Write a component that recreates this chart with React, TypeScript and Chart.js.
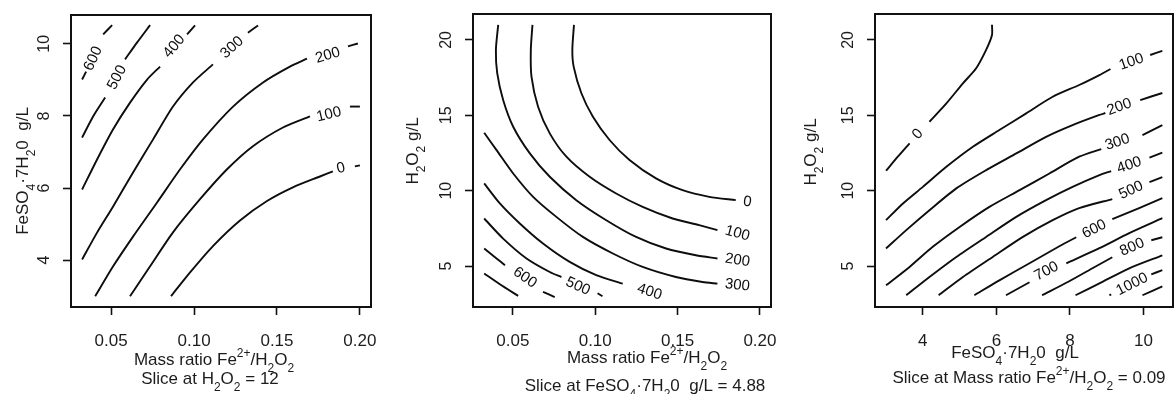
import React, { useEffect, useRef } from 'react';
import { Chart, registerables } from 'chart.js';
Chart.register(...registerables);

type P = [number, number] | null;
type Seg = [string, number]; // 0 normal, 1 superscript, 2 subscript

const FONT = '"Liberation Sans", Arial, Helvetica, sans-serif';

// ---------------- Panel 1: Mass ratio vs FeSO4·7H2O (slice H2O2 = 12) ----------------
const P1_X_TICKS = [0.05, 0.1, 0.15, 0.2];
const P1_Y_TICKS = [4, 6, 8, 10];
const P1_LEVELS = ['0', '100', '200', '300', '400', '500', '600'];
const P1_LINES: P[][] = [
  [[0.0861, 3.0], [0.0976, 3.66], [0.1114, 4.39], [0.1277, 5.1], [0.144, 5.64], [0.1596, 6.02], [0.1759, 6.32], [0.1837, 6.46], null, [0.197, 6.6], [0.2, 6.63]],
  [[0.0614, 3.0], [0.0735, 3.83], [0.0873, 4.77], [0.1036, 5.69], [0.1199, 6.52], [0.1355, 7.16], [0.1536, 7.68], [0.1699, 7.99], null, [0.194, 8.26], [0.2, 8.26]],
  [[0.0404, 3.0], [0.0512, 3.83], [0.0633, 4.66], [0.0777, 5.6], [0.0916, 6.52], [0.1054, 7.35], [0.1235, 8.26], [0.1416, 8.93], [0.1578, 9.37], [0.1681, 9.59], null, [0.1928, 9.93], [0.1988, 10.01]],
  [[0.0325, 4.02], [0.0416, 4.77], [0.0512, 5.49], [0.0633, 6.44], [0.0753, 7.35], [0.0873, 8.26], [0.0994, 8.93], [0.1114, 9.43], null, [0.1325, 10.31], [0.1386, 10.51]],
  [[0.0325, 5.96], [0.0416, 6.8], [0.0512, 7.63], [0.0614, 8.37], [0.0717, 9.01], [0.0795, 9.37], null, [0.0958, 10.26], [0.1006, 10.51]],
  [[0.0325, 7.4], [0.0392, 7.99], [0.0464, 8.51], null, [0.0584, 9.57], [0.0657, 10.04], [0.0735, 10.52]],
  [[0.0325, 9.01], [0.0349, 9.23], null, [0.0452, 10.26], [0.0506, 10.52]],
];
const P1_LABEL_AT: P[] = [
  [0.1886, 6.55], [0.1813, 8.04], [0.1807, 9.68], [0.1229, 9.9], [0.088, 9.93], [0.0536, 9.07], [0.0392, 9.59],
];

// ---------------- Panel 2: Mass ratio vs H2O2 (slice FeSO4·7H2O = 4.88) ----------------
const P2_X_TICKS = [0.05, 0.1, 0.15, 0.2];
const P2_Y_TICKS = [5, 10, 15, 20];
const P2_LEVELS = ['0', '100', '200', '300', '400', '500', '600', ''];
const P2_LINES: P[][] = [
  [[0.0871, 21.0], [0.0861, 19.34], [0.0869, 18.23], [0.0916, 16.46], [0.0986, 14.9], [0.1087, 13.36], [0.1208, 12.03], [0.1369, 10.81], [0.153, 10.03], [0.1692, 9.59], [0.1853, 9.37]],
  [[0.0619, 21.0], [0.0609, 19.34], [0.0613, 17.56], [0.0653, 15.57], [0.0724, 13.8], [0.0825, 12.25], [0.0966, 10.92], [0.1127, 9.81], [0.1288, 8.92], [0.147, 8.15], [0.1631, 7.71], [0.1742, 7.38]],
  [[0.0411, 21.0], [0.0397, 19.34], [0.0405, 17.79], [0.0441, 16.01], [0.0502, 14.24], [0.0603, 12.47], [0.0724, 10.92], [0.0885, 9.37], [0.1067, 8.04], [0.1248, 6.93], [0.143, 6.16], [0.1611, 5.71], [0.1742, 5.5]],
  [[0.0326, 13.84], [0.0401, 12.69], [0.0502, 11.14], [0.0623, 9.59], [0.0764, 8.26], [0.0925, 6.93], [0.1107, 5.83], [0.1288, 4.94], [0.149, 4.27], [0.1651, 3.94], [0.1742, 3.83]],
  [[0.0326, 10.48], [0.0421, 9.15], [0.0542, 7.82], [0.0683, 6.49], [0.0845, 5.27], [0.1006, 4.39], [0.1167, 3.83]],
  [[0.0326, 8.15], [0.0441, 6.82], [0.0583, 5.5], [0.0724, 4.6], [0.0795, 4.27], null, [0.1014, 3.19], [0.1044, 2.99]],
  [[0.0326, 6.16], [0.0401, 5.5], [0.0452, 5.05], null, [0.0683, 3.28], [0.0754, 2.94]],
  [[0.0326, 4.5], [0.0421, 3.79], [0.0532, 3.02]],
];
const P2_LABEL_AT: P[] = [
  [0.1923, 9.26], [0.1863, 7.16], [0.1863, 5.38], [0.1863, 3.72], [0.1329, 3.28], [0.0895, 3.65], [0.0573, 4.23], null,
];

// ---------------- Panel 3: FeSO4·7H2O vs H2O2 (slice mass ratio = 0.09) ----------------
const P3_X_TICKS = [4, 6, 8, 10];
const P3_Y_TICKS = [5, 10, 15, 20];
const P3_LEVELS = ['0', '100', '200', '300', '400', '500', '600', '700', '800', '', '1000', ''];
const P3_LINES: P[][] = [
  [[3.0, 11.32], [3.32, 12.25], [3.64, 13.14], null, [4.18, 14.57], [4.64, 15.79], [5.09, 17.12], [5.45, 18.12], [5.72, 19.34], [5.88, 20.33], [5.88, 21.0]],
  [[3.0, 8.04], [3.46, 9.15], [4.0, 10.25], [4.64, 11.58], [5.36, 12.91], [6.08, 14.02], [6.81, 15.13], [7.53, 16.23], [8.25, 17.01], [8.8, 17.67], [9.1, 18.07], null, [10.18, 19.0], [10.51, 19.27]],
  [[3.0, 6.16], [3.55, 7.38], [4.18, 8.7], [4.91, 10.15], [5.72, 11.36], [6.54, 12.47], [7.35, 13.57], [8.07, 14.35], [8.8, 15.02], [8.96, 15.15], null, [9.91, 16.01], [10.51, 16.48]],
  [[3.0, 3.72], [3.64, 4.94], [4.27, 6.27], [5.0, 7.59], [5.81, 8.92], [6.63, 10.03], [7.44, 11.14], [8.25, 12.25], [8.85, 12.76], null, [9.97, 13.69], [10.51, 14.35]],
  [[3.55, 3.06], [4.18, 4.27], [4.91, 5.6], [5.72, 6.93], [6.54, 8.26], [7.35, 9.37], [8.07, 10.25], [8.8, 11.03], [9.12, 11.3], null, [10.16, 12.19], [10.51, 12.52]],
  [[4.43, 3.06], [5.09, 4.27], [5.9, 5.6], [6.72, 6.93], [7.53, 8.04], [8.25, 8.84], [9.15, 9.44], null, [10.16, 10.56], [10.51, 10.9]],
  [[5.4, 3.06], [6.08, 4.05], [6.9, 5.18], [7.71, 6.31], [8.17, 6.91], null, [9.15, 8.11], [9.88, 8.84], [10.51, 9.5]],
  [[6.26, 3.06], [6.9, 3.92], null, [7.9, 5.18], [8.8, 6.18], [9.61, 7.18], [10.51, 8.17]],
  [[7.24, 3.06], [7.98, 3.99], [8.66, 4.92], [9.15, 5.58], null, [10.21, 6.71], [10.51, 6.91]],
  [[8.15, 3.06], [8.8, 3.85], [9.61, 4.85], [10.51, 5.71]],
  [[9.07, 3.06], [9.12, 3.12], null, [10.21, 4.45], [10.51, 4.72]],
  [[9.97, 3.06], [10.51, 3.65]],
];
const P3_LABEL_AT: P[] = [
  [3.86, 13.75], [9.67, 18.54], [9.34, 15.55], [9.29, 13.22], [9.61, 11.69], [9.66, 10.03], [8.66, 7.44], [7.36, 4.65], [9.69, 6.25], null, [9.69, 3.79], null,
];

// ---------------- titles (rich text) ----------------
const T_MASS: Seg[] = [['Mass ratio Fe', 0], ['2+', 1], ['/H', 0], ['2', 2], ['O', 0], ['2', 2]];
const T_FESO: Seg[] = [['FeSO', 0], ['4', 2], ['·7H', 0], ['2', 2], ['0  g/L', 0]];
const T_H2O2: Seg[] = [['H', 0], ['2', 2], ['O', 0], ['2', 2], [' g/L', 0]];
const T_SLICE1: Seg[] = [['Slice at H', 0], ['2', 2], ['O', 0], ['2', 2], [' = 12', 0]];
const T_SLICE2: Seg[] = [['Slice at FeSO', 0], ['4', 2], ['·7H', 0], ['2', 2], ['0  g/L = 4.88', 0]];
const T_SLICE3: Seg[] = [['Slice at Mass ratio Fe', 0], ['2+', 1], ['/H', 0], ['2', 2], ['O', 0], ['2', 2], [' = 0.09', 0]];

interface Spec {
  left: number; width: number; top: number; yAxisW: number; padRight: number;
  xMin: number; xMax: number; yMin: number; yMax: number;
  xTicks: number[]; yTicks: number[]; xDigits: number;
  lines: P[][]; levels: string[]; labelAt: P[];
  xTitle: { segs: Seg[]; cx: number; y: number }[];
  yTitle: { segs: Seg[]; x: number; cy: number };
}

const PANELS: Spec[] = [
  {
    left: 0, width: 400, top: 15, yAxisW: 71, padRight: 29,
    xMin: 0.0258, xMax: 0.2067, yMin: 2.7, yMax: 10.8,
    xTicks: P1_X_TICKS, yTicks: P1_Y_TICKS, xDigits: 2,
    lines: P1_LINES, levels: P1_LEVELS, labelAt: P1_LABEL_AT,
    xTitle: [{ segs: T_MASS, cx: 214, y: 365 }, { segs: T_SLICE1, cx: 210, y: 384 }],
    yTitle: { segs: T_FESO, x: 28, cy: 171 },
  },
  {
    left: 400, width: 400, top: 14, yAxisW: 73, padRight: 29,
    xMin: 0.0258, xMax: 0.2067, yMin: 2.28, yMax: 21.72,
    xTicks: P2_X_TICKS, yTicks: P2_Y_TICKS, xDigits: 2,
    lines: P2_LINES, levels: P2_LEVELS, labelAt: P2_LABEL_AT,
    xTitle: [{ segs: T_MASS, cx: 247, y: 363 }, { segs: T_SLICE2, cx: 245, y: 391 }],
    yTitle: { segs: T_H2O2, x: 18, cy: 151 },
  },
  {
    left: 800, width: 374, top: 14, yAxisW: 75, padRight: 1,
    xMin: 2.7, xMax: 10.8, yMin: 2.28, yMax: 21.72,
    xTicks: P3_X_TICKS, yTicks: P3_Y_TICKS, xDigits: 0,
    lines: P3_LINES, levels: P3_LEVELS, labelAt: P3_LABEL_AT,
    xTitle: [{ segs: T_FESO, cx: 215, y: 358 }, { segs: T_SLICE3, cx: 229, y: 383 }],
    yTitle: { segs: T_H2O2, x: 16, cy: 152 },
  },
];

function drawRich(ctx: CanvasRenderingContext2D, segs: Seg[], x: number, y: number, rot: boolean) {
  const big = `17px ${FONT}`;
  const small = `12px ${FONT}`;
  let total = 0;
  const ws = segs.map(([t, k]) => {
    ctx.font = k ? small : big;
    const w = ctx.measureText(t).width;
    total += w;
    return w;
  });
  ctx.save();
  ctx.translate(x, y);
  if (rot) ctx.rotate(-Math.PI / 2);
  ctx.textBaseline = 'alphabetic';
  ctx.textAlign = 'left';
  ctx.fillStyle = '#1c1c1c';
  let cx = -total / 2;
  segs.forEach(([t, k], i) => {
    ctx.font = k ? small : big;
    ctx.fillText(t, cx, k === 1 ? -8 : k === 2 ? 7 : 0);
    cx += ws[i];
  });
  ctx.restore();
}

function toDatasets(lines: P[][]) {
  const out: any[] = [];
  lines.forEach((line) => {
    let cur: { x: number; y: number }[] = [];
    line.forEach((p) => {
      if (p === null) {
        if (cur.length) out.push(cur);
        cur = [];
      } else cur.push({ x: p[0], y: p[1] });
    });
    if (cur.length) out.push(cur);
  });
  return out.map((d) => ({
    data: d, showLine: true, borderColor: '#0d0d0d', borderWidth: 1.9,
    pointRadius: 0, pointHoverRadius: 0, tension: 0.25, fill: false,
  }));
}

function makePlugin(spec: Spec) {
  return {
    id: 'rstyle',
    afterDatasetsDraw(chart: any) {
      const xs = chart.scales.x;
      const ys = chart.scales.y;
      const ctx: CanvasRenderingContext2D = chart.ctx;
      ctx.save();
      ctx.font = `15px ${FONT}`;
      ctx.fillStyle = '#0d0d0d';
      ctx.textAlign = 'center';
      ctx.textBaseline = 'middle';
      spec.levels.forEach((txt, i) => {
        const at = spec.labelAt[i];
        if (!txt || !at) return;
        const line = spec.lines[i];
        const g = line.indexOf(null);
        let a: any, b: any;
        if (g > 0) { a = line[g - 1]; b = line[g + 1]; }
        else { a = line[line.length - 2]; b = line[line.length - 1]; }
        let ang = Math.atan2(
          ys.getPixelForValue(b[1]) - ys.getPixelForValue(a[1]),
          xs.getPixelForValue(b[0]) - xs.getPixelForValue(a[0])
        );
        if (ang > Math.PI / 2) ang -= Math.PI;
        if (ang < -Math.PI / 2) ang += Math.PI;
        ctx.save();
        ctx.translate(xs.getPixelForValue(at[0]), ys.getPixelForValue(at[1]));
        ctx.rotate(ang);
        ctx.fillText(txt, 0, 0);
        ctx.restore();
      });
      ctx.restore();
    },
    afterDraw(chart: any) {
      const ctx: CanvasRenderingContext2D = chart.ctx;
      const { left, top, right, bottom } = chart.chartArea;
      ctx.save();
      ctx.strokeStyle = '#111';
      ctx.lineWidth = 2;
      ctx.strokeRect(left, top, right - left, bottom - top);
      ctx.restore();
      spec.xTitle.forEach((t) => drawRich(ctx, t.segs, t.cx, t.y, false));
      drawRich(ctx, spec.yTitle.segs, spec.yTitle.x, spec.yTitle.cy, true);
    },
  };
}

function Panel({ spec }: { spec: Spec }) {
  const ref = useRef<HTMLCanvasElement>(null);
  useEffect(() => {
    const gridOpts = {
      display: true, drawOnChartArea: false, drawTicks: true, tickLength: 8,
      tickColor: '#111', tickWidth: 1.6,
    };
    const chart = new Chart(ref.current!, {
      type: 'scatter',
      data: { datasets: toDatasets(spec.lines) },
      options: {
        responsive: false,
        animation: false,
        devicePixelRatio: 1,
        events: [],
        layout: { padding: { left: 0, top: spec.top, right: spec.padRight, bottom: 0 } },
        plugins: { legend: { display: false }, tooltip: { enabled: false } },
        scales: {
          x: {
            type: 'linear', min: spec.xMin, max: spec.xMax,
            afterBuildTicks: (s: any) => { s.ticks = spec.xTicks.map((v) => ({ value: v })); },
            afterFit: (s: any) => { s.height = 394 - 307; s.paddingLeft = 0; s.paddingRight = 0; s.paddingTop = 0; s.paddingBottom = 0; },
            grid: gridOpts,
            border: { display: false },
            ticks: {
              padding: 16, color: '#1c1c1c', autoSkip: false, maxRotation: 0, minRotation: 0,
              font: { family: FONT, size: 17 },
              callback: (v: any) => Number(v).toFixed(spec.xDigits),
            },
          },
          y: {
            type: 'linear', min: spec.yMin, max: spec.yMax,
            afterBuildTicks: (s: any) => { s.ticks = spec.yTicks.map((v) => ({ value: v })); },
            afterFit: (s: any) => { s.width = spec.yAxisW; s.paddingLeft = 0; s.paddingRight = 0; s.paddingTop = 0; s.paddingBottom = 0; },
            grid: gridOpts,
            border: { display: false },
            ticks: {
              padding: 10, color: '#1c1c1c', autoSkip: false, minRotation: 90, maxRotation: 90,
              crossAlign: 'center',
              font: { family: FONT, size: 16 },
              callback: (v: any) => String(v),
            },
          },
        },
      } as any,
      plugins: [makePlugin(spec) as any],
    });
    return () => chart.destroy();
  }, [spec]);
  return (
    <canvas
      ref={ref}
      width={spec.width}
      height={394}
      style={{ position: 'absolute', left: spec.left, top: 0, width: spec.width, height: 394 }}
    />
  );
}

export default function App() {
  return (
    <div style={{ position: 'absolute', left: 0, top: 0, width: 1174, height: 394, background: '#fff', overflow: 'hidden' }}>
      {PANELS.map((p, i) => (
        <Panel key={i} spec={p} />
      ))}
    </div>
  );
}
